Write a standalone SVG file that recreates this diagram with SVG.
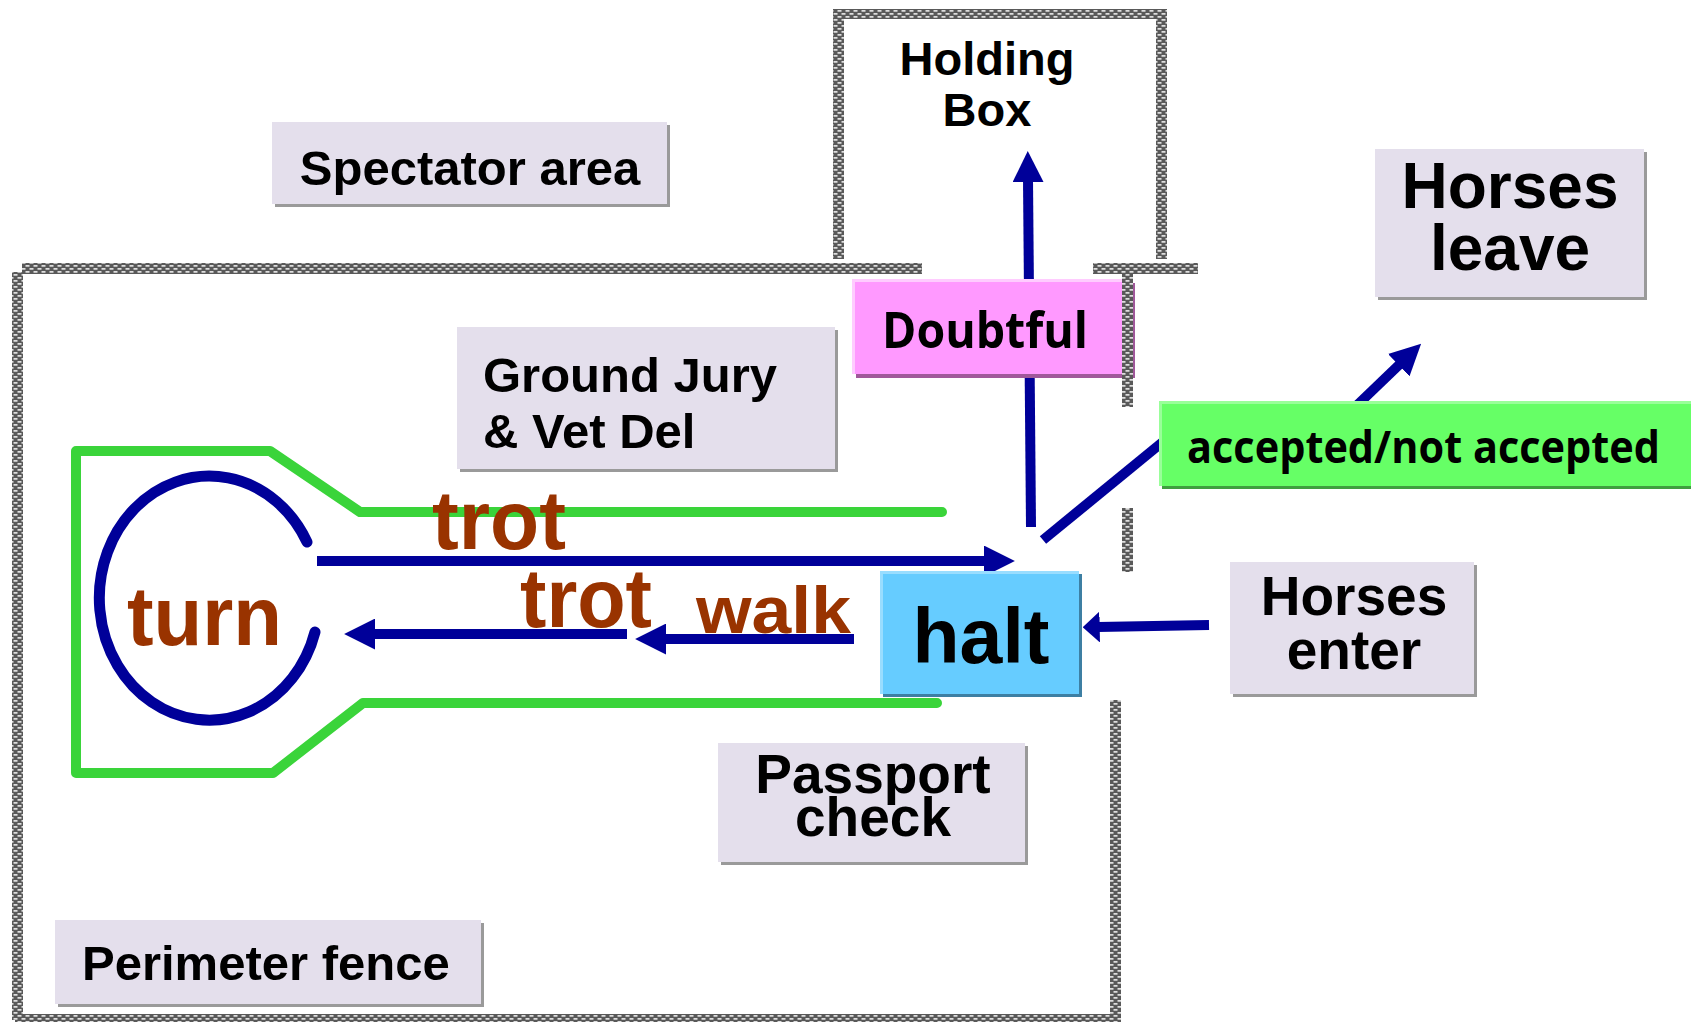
<svg xmlns="http://www.w3.org/2000/svg" width="1691" height="1023" viewBox="0 0 1691 1023">
<style>
.lbl{fill:#e4dfec}
.shd{fill:#9a9a9a}
.ar{font-family:"Liberation Sans",Arial,sans-serif;font-weight:bold;fill:#000}
.cal{font-family:"Open Sans","Noto Sans",sans-serif;font-weight:bold;fill:#000}
.gait{font-family:"Liberation Sans",Arial,sans-serif;font-weight:bold;fill:#993300}
.fence{fill:url(#fencepat)}
.conn{stroke:#000099;stroke-width:10;fill:none}
</style>
<defs>
<pattern id="fencepat" patternUnits="userSpaceOnUse" width="8" height="6">
<rect width="8" height="6" fill="#595959"/>
<rect x="1.5" y="1.2" width="4" height="1.4" fill="#fff"/>
<rect x="5.5" y="4.2" width="4" height="1.4" fill="#fff"/>
<rect x="-2.5" y="4.2" width="4" height="1.4" fill="#fff"/>
</pattern>
<marker id="head" viewBox="0 0 10 10" markerUnits="strokeWidth" markerWidth="3.1" markerHeight="3.1" refX="1" refY="5" orient="auto">
<path d="M0,0 L10,5 L0,10 z" fill="#000099"/>
</marker>
<marker id="headshort" viewBox="0 0 10 10" preserveAspectRatio="none" markerUnits="strokeWidth" markerWidth="1.7" markerHeight="3.1" refX="1" refY="5" orient="auto">
<path d="M0,0 L10,5 L0,10 z" fill="#000099"/>
</marker>
</defs>
<rect width="1691" height="1023" fill="#fff"/>

<g id="fences">
<rect class="fence" x="833" y="9" width="11" height="250"/>
<rect class="fence" x="833" y="9" width="334" height="10"/>
<rect class="fence" x="1156" y="9" width="11" height="250"/>
<rect class="fence" x="22" y="263" width="900" height="11"/>
<rect class="fence" x="1093" y="263" width="105" height="11"/>
<rect class="fence" x="12" y="272" width="11" height="748"/>
<rect class="fence" x="15" y="1014" width="1106" height="8"/>
<rect class="fence" x="1110" y="700" width="11" height="320"/>
<rect class="fence" x="1122" y="508" width="11" height="64"/>
</g>

<g id="track">
<polyline points="942,512 360,512 270,451 76,451 76,773 273,773 363,703 937,703" fill="none" stroke="#3ad43a" stroke-width="10" stroke-linejoin="round" stroke-linecap="round"/>
</g>

<g id="turn-circle">
<path d="M307,542 A110,122 0 1,0 315,632" fill="none" stroke="#000099" stroke-width="11" stroke-linecap="round"/>
<text class="gait" x="127" y="645" font-size="84" textLength="155" lengthAdjust="spacingAndGlyphs">turn</text>
</g>

<g id="connectors">
<line class="conn" x1="317" y1="561" x2="987" y2="561" marker-end="url(#head)"/>
<line class="conn" x1="627" y1="634" x2="372" y2="634" marker-end="url(#head)"/>
<line class="conn" x1="854" y1="639" x2="663" y2="639" marker-end="url(#head)"/>
<line class="conn" x1="1031" y1="527" x2="1028" y2="179" marker-end="url(#head)"/>
<line class="conn" x1="1209" y1="625" x2="1098" y2="627" marker-end="url(#headshort)"/>
<line class="conn" x1="1043" y1="540" x2="1170" y2="436"/>
<line class="conn" x1="1350" y1="412" x2="1401" y2="363" marker-end="url(#head)"/>
</g>

<g id="label-trot-out">
<text class="gait" x="432" y="549" font-size="84" textLength="134" lengthAdjust="spacingAndGlyphs">trot</text>
</g>
<g id="label-trot-back">
<text class="gait" x="520" y="627" font-size="84" textLength="132" lengthAdjust="spacingAndGlyphs">trot</text>
</g>
<g id="label-walk">
<text class="gait" x="696" y="633" font-size="66" textLength="155" lengthAdjust="spacingAndGlyphs">walk</text>
</g>

<g id="holding-box">
<text class="ar" x="987" y="75" font-size="47" text-anchor="middle">Holding</text>
<text class="ar" x="987" y="126" font-size="47" text-anchor="middle">Box</text>
</g>

<g id="spectator-area">
<rect class="shd" x="275" y="125" width="395" height="82"/>
<rect class="lbl" x="272" y="122" width="395" height="82"/>
<text class="ar" x="470" y="185" font-size="49" text-anchor="middle">Spectator area</text>
</g>

<g id="ground-jury">
<rect class="shd" x="460" y="330" width="378" height="142"/>
<rect class="lbl" x="457" y="327" width="378" height="142"/>
<text class="ar" x="483" y="392" font-size="49">Ground Jury</text>
<text class="ar" x="483" y="448" font-size="49">&amp; Vet Del</text>
</g>

<g id="passport-check">
<rect class="shd" x="721" y="746" width="307" height="119"/>
<rect class="lbl" x="718" y="743" width="307" height="119"/>
<text class="ar" x="873" y="793" font-size="55" text-anchor="middle">Passport</text>
<text class="ar" x="873" y="836" font-size="55" text-anchor="middle">check</text>
</g>

<g id="perimeter-fence">
<rect class="shd" x="58" y="923" width="426" height="84"/>
<rect class="lbl" x="55" y="920" width="426" height="84"/>
<text class="ar" x="82" y="980" font-size="49">Perimeter fence</text>
</g>

<g id="horses-leave">
<rect class="shd" x="1378" y="152" width="269" height="148"/>
<rect class="lbl" x="1375" y="149" width="269" height="148"/>
<text class="ar" x="1510" y="208" font-size="64" text-anchor="middle">Horses</text>
<text class="ar" x="1510" y="270" font-size="64" text-anchor="middle">leave</text>
</g>

<g id="horses-enter">
<rect class="shd" x="1233" y="565" width="244" height="132"/>
<rect class="lbl" x="1230" y="562" width="244" height="132"/>
<text class="ar" x="1354" y="615" font-size="55" text-anchor="middle">Horses</text>
<text class="ar" x="1354" y="669" font-size="55" text-anchor="middle">enter</text>
</g>

<g id="doubtful">
<rect x="856" y="283" width="279" height="95" fill="#a0589a"/>
<rect x="852" y="279" width="279" height="95" fill="#ffccff"/>
<rect x="855" y="282" width="276" height="92" fill="#ff99ff"/>
<text class="cal" x="985" y="348" font-size="51" text-anchor="middle" textLength="206" lengthAdjust="spacingAndGlyphs">Doubtful</text>
</g>

<g id="fence-right-upper">
<rect class="fence" x="1122" y="270" width="11" height="137"/>
</g>

<g id="accepted">
<rect x="1162" y="404" width="529" height="85" fill="#3f9f3f"/>
<rect x="1159" y="401" width="532" height="85" fill="#99ff99"/>
<rect x="1162" y="404" width="529" height="82" fill="#66ff66"/>
<text class="cal" x="1187" y="463" font-size="45" textLength="473" lengthAdjust="spacingAndGlyphs">accepted/not accepted</text>
</g>

<g id="halt">
<rect x="883" y="574" width="199" height="123" fill="#3d7fa3"/>
<rect x="880" y="571" width="199" height="123" fill="#99ddff"/>
<rect x="883" y="574" width="196" height="120" fill="#66ccff"/>
<text class="ar" x="981" y="663" font-size="77" text-anchor="middle">halt</text>
</g>
</svg>
